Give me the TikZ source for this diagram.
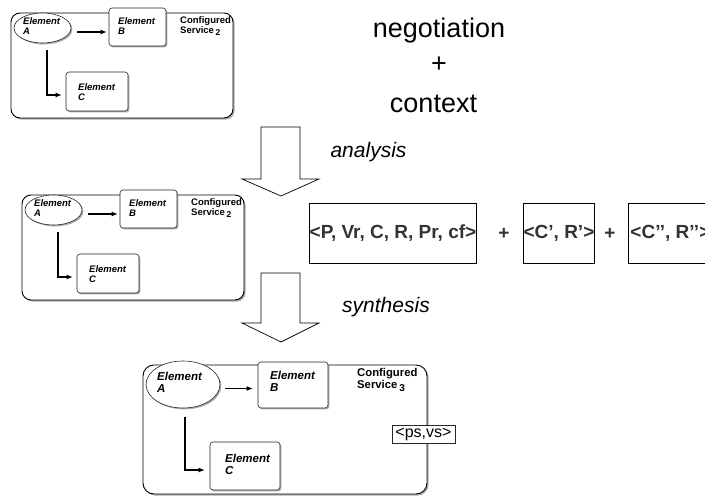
\documentclass[tikz,border=0pt]{standalone}
\usepackage{fontspec}
\setmainfont{Liberation Sans}
\usetikzlibrary{arrows.meta,shadows,shapes.geometric}
\definecolor{TupleGray}{HTML}{333333}
\definecolor{ShadowGray}{HTML}{8A8A8A}

\tikzset{
  servicebox/.style={draw=black,line width=0.9pt,rounded corners=9pt,fill=white,
    inner sep=0pt,
    drop shadow={shadow xshift=1.6pt,shadow yshift=-1.6pt,fill=ShadowGray,opacity=0.7}},
  elembox/.style={draw=black!85,line width=0.6pt,rounded corners=3pt,fill=white,
    inner sep=0pt,
    drop shadow={shadow xshift=1.4pt,shadow yshift=-1.4pt,fill=ShadowGray,opacity=0.7}},
  elemoval/.style={elembox,ellipse,rounded corners=0pt},
  elemtext/.style={anchor=north west,inner sep=0pt,align=left,
    font=\bfseries\itshape\fontsize{9.5}{10}\selectfont},
  bigelemtext/.style={elemtext,font=\bfseries\itshape\fontsize{11.5}{12}\selectfont},
  servicetext/.style={anchor=north west,inner sep=0pt,align=left,
    font=\bfseries\fontsize{9.5}{10}\selectfont},
  bigservicetext/.style={servicetext,font=\bfseries\fontsize{11.3}{12}\selectfont},
  flowarrow/.style={-{Latex[length=6pt,width=5pt]},line width=1.1pt},
  tuplefont/.style={text=TupleGray,font=\bfseries\fontsize{19}{21}\selectfont},
  tuplebox/.style={tuplefont,draw=black,line width=0.8pt,minimum height=60,inner sep=0pt},
  bigtext/.style={inner sep=0pt,anchor=base,font=\fontsize{27}{30}\selectfont},
  steptext/.style={inner sep=0pt,anchor=base,font=\itshape\fontsize{21}{24}\selectfont},
  blockarrow/.style={draw=black,line width=0.7pt,fill=white}
}

\begin{document}
\begin{tikzpicture}[x=1pt,y=-1pt]
  \useasboundingbox[fill=white] (0,0) rectangle (705,497);

  % the two configured services before synthesis
  \foreach \n/\dx/\dy in {s1/11/13, s2/22/195}{
    \begin{scope}[shift={(\dx,\dy)}]
      \node[servicebox,minimum width=222,minimum height=105] (\n-box) at (111,52.5) {};
      \node[elemoval,minimum width=57,minimum height=30] (\n-a) at (31.5,15) {};
      \node[elembox,minimum width=57,minimum height=38] (\n-b) at (126.5,14) {};
      \node[elembox,minimum width=62,minimum height=39] (\n-c) at (86,78.5) {};
      \node[elemtext] (\n-at) at (12,4) {Element\\A};
      \node[elemtext] (\n-bt) at (107,4) {Element\\B};
      \node[elemtext] (\n-ct) at (67,70) {Element\\C};
      \node[servicetext] (\n-name) at (169,3)
        {Configured\\Service\,\raisebox{-2.5pt}{\fontsize{8.5}{9}\selectfont 2}};
      \draw[flowarrow,shorten <=6pt,shorten >=2pt]
        ([yshift=-4pt]\n-a.east) -- ([yshift=-4pt]\n-a.east -| \n-b.west);
      \draw[flowarrow,shorten <=7pt,shorten >=4pt]
        ([xshift=4.5pt]\n-a.south) |- ([yshift=-3.5pt]\n-c.west);
    \end{scope}
  }

  % the synthesised service
  \node[servicebox,rounded corners=11pt,minimum width=284,minimum height=129] (s3-box) at (285,429.5) {};
  \node[elemoval,minimum width=74,minimum height=47] (s3-a) at (183,384.5) {};
  \node[elembox,minimum width=70,minimum height=46] (s3-b) at (293,385) {};
  \node[elembox,minimum width=70,minimum height=48] (s3-c) at (245,466) {};
  \node[bigelemtext] (s3-at) at (157,372) {Element\\A};
  \node[bigelemtext] (s3-bt) at (270,371) {Element\\B};
  \node[bigelemtext] (s3-ct) at (225,454) {Element\\C};
  \node[bigservicetext] (s3-name) at (357,368)
    {Configured\\Service\,\raisebox{-3pt}{\fontsize{10}{10}\selectfont 3}};
  \draw[flowarrow,shorten <=5pt,shorten >=5pt]
    ([yshift=-4pt]s3-a.east) -- ([yshift=-4pt]s3-a.east -| s3-b.west);
  \draw[flowarrow,shorten <=9pt,shorten >=5pt]
    ([xshift=2pt]s3-a.south) |- ([yshift=-4pt]s3-c.west);
  \node[elembox,rounded corners=0pt,minimum width=63,minimum height=18,
    font=\fontsize{16}{16}\selectfont] (s3-params) at (423.5,434) {<ps,vs>};

  % negotiation and context
  \node[bigtext] (neg) at (439,38) {negotiation};
  \node[bigtext] (plus) at (439,73) {+};
  \node[bigtext] (ctx) at (433.5,113) {context};

  % analysis and synthesis steps
  \foreach \top/\base/\tip in {127/179/196, 273/323/342}{
    \draw[blockarrow] (261,\top) -- (300,\top) -- (300,\base) -- (319,\base)
      -- (281,\tip) -- (242,\base) -- (261,\base) -- cycle;
  }
  \node[steptext] (analysis) at (368.5,158) {analysis};
  \node[steptext] (synthesis) at (386,313) {synthesis};

  % tuples
  \node[tuplebox,minimum width=166] (tuple) at (393,233) {<P, Vr, C, R, Pr, cf>};
  \node[tuplebox,minimum width=68] (tuple-a) at (559,233) {<C’, R’>};
  \node[tuplebox,minimum width=84,anchor=west] (tuple-b) at (628,233) {<C’’, R’’>};
  \node[tuplefont,inner sep=0pt] (plus-a) at (504,234) {+};
  \node[tuplefont,inner sep=0pt] (plus-b) at (610,234) {+};
\end{tikzpicture}
\end{document}
